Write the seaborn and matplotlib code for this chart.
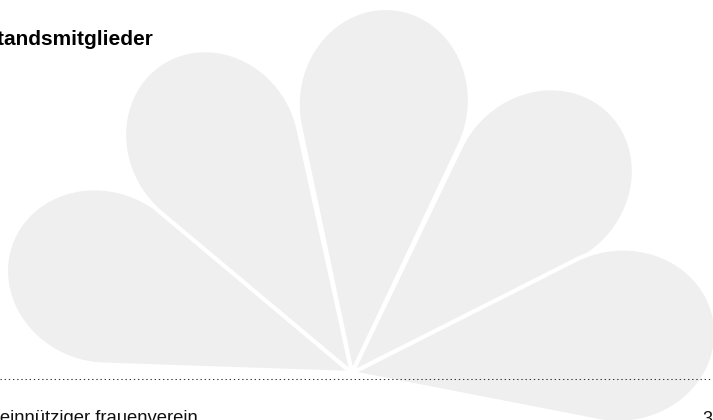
import numpy as np
import matplotlib
matplotlib.use("Agg")
import matplotlib.pyplot as plt
from matplotlib.patches import Polygon
import seaborn as sns

# petal fan data: direction (deg, counter-clockwise from +x), tip distance, half width
petal_names = ["p1", "p2", "p3", "p4", "p5"]
petal_angles = [159.0, 121.2, 83.3, 45.4, 7.9]
petal_tip = [365, 364, 367, 367, 367]
petal_halfwidth = [87, 86, 86, 87, 87]
draw_order = [0, 1, 4, 3, 2]  # centre petal sits on top

title_text = "Vorstandsmitglieder"
footer_text = "gemeinnütziger frauenverein"
page_number = "3"

W, H = 713, 420
APEX = (352, 373)
RULE_Y = 379
PETAL_COLOR = "#efefef"
STRETCH = 1.1  # round end is a slightly long ellipse


def petal_outline(angle, tip, b, n=140):
    a = b * STRETCH
    d = tip - a
    t0 = np.arccos(-a / d)
    t = np.linspace(-t0, t0, n)
    lx = np.concatenate([[0], d + a * np.cos(t)])
    ly = np.concatenate([[0], b * np.sin(t)])
    th = np.radians(angle)
    x = lx * np.cos(th) - ly * np.sin(th)
    y = lx * np.sin(th) + ly * np.cos(th)
    return np.column_stack([APEX[0] + x, APEX[1] - y])


sns.set_theme(style="white")
plt.rcParams["font.family"] = ["Liberation Sans", "DejaVu Sans"]

fig = plt.figure(figsize=(W / 100, H / 100), dpi=100)
ax = fig.add_axes([0, 0, 1, 1])
ax.set_xlim(0, W)
ax.set_ylim(H, 0)
ax.axis("off")

for i in draw_order:
    pts = petal_outline(petal_angles[i], petal_tip[i], petal_halfwidth[i])
    ax.add_patch(Polygon(pts, closed=True, facecolor=PETAL_COLOR,
                         edgecolor="white", linewidth=3.0, joinstyle="round",
                         zorder=1 + i * 0.01))

# dotted rule
ax.axhline(RULE_Y, color="#333333", linewidth=0.75,
           linestyle=(0, (1.3, 2.7)), zorder=3)

ax.text(154, 45, title_text, ha="right", va="baseline",
        fontsize=15, fontweight="bold", color="black", zorder=4)
ax.text(198, 423, footer_text, ha="right", va="baseline",
        fontsize=13.3, color="#111111", zorder=4)
ax.text(712, 424, page_number, ha="right", va="baseline",
        fontsize=13, color="#111111", zorder=4)

fig.savefig("out.png", dpi=100)
